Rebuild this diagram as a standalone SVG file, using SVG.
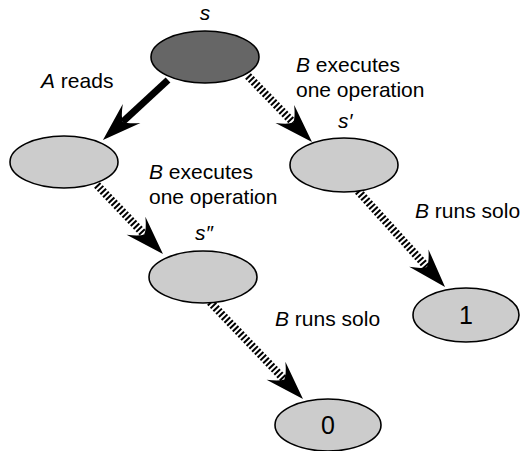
<svg xmlns="http://www.w3.org/2000/svg" width="523" height="451" viewBox="0 0 523 451">
<style>
text{font-family:"Liberation Sans",Arial,sans-serif;font-size:21px;fill:#000}
.i{font-style:italic}
.node{fill:#cccccc;stroke:#000;stroke-width:1.6}
.dark{fill:#666666}
.hatch{stroke:#000;stroke-width:8;stroke-dasharray:2 2;fill:none}
.solid{stroke:#000;stroke-width:7;fill:none}
.num{font-size:25px;text-anchor:middle}
</style>
<defs>
<marker id="ah" markerUnits="userSpaceOnUse" orient="auto" markerWidth="44" markerHeight="34" refX="0" refY="0" viewBox="-14 -17 44 34" overflow="visible">
<path d="M27,0 L-12,-13 Q-2,-5 0,0 Q-2,5 -12,13 Z" fill="#000"/>
</marker>
</defs>
<g id="connectors">
<line class="solid" x1="168" y1="80" x2="122.8" y2="121.7" marker-end="url(#ah)"/>
<line class="hatch" x1="248" y1="76" x2="293.2" y2="122.6" marker-end="url(#ah)"/>
<line class="hatch" x1="97" y1="185" x2="144.3" y2="234.5" marker-end="url(#ah)"/>
<line class="hatch" x1="358" y1="191" x2="426.9" y2="267" marker-end="url(#ah)"/>
<line class="hatch" x1="210" y1="302" x2="284.3" y2="379.5" marker-end="url(#ah)"/>
</g>
<g id="node-s">
<ellipse class="node dark" cx="205" cy="57" rx="54" ry="26"/>
<text class="i" x="205" y="20" text-anchor="middle">s</text>
</g>
<g id="node-a">
<ellipse class="node" cx="64" cy="162" rx="54" ry="26"/>
</g>
<g id="node-s1">
<ellipse class="node" cx="344" cy="165" rx="54" ry="27"/>
<text class="i" x="338" y="128">s′</text>
</g>
<g id="node-s2">
<ellipse class="node" cx="203" cy="277" rx="54" ry="26"/>
<text class="i" x="195" y="240">s″</text>
</g>
<g id="node-1">
<ellipse class="node" cx="466" cy="315" rx="53" ry="27"/>
<text class="num" x="466" y="324">1</text>
</g>
<g id="node-0">
<ellipse class="node" cx="328" cy="425" rx="53" ry="26"/>
<text class="num" x="328" y="434">0</text>
</g>
<g id="labels">
<text x="41" y="88"><tspan class="i">A</tspan> reads</text>
<text x="296" y="72"><tspan class="i">B</tspan> executes</text>
<text x="296" y="97">one operation</text>
<text x="149" y="179"><tspan class="i">B</tspan> executes</text>
<text x="149" y="204">one operation</text>
<text x="415" y="218"><tspan class="i">B</tspan> runs solo</text>
<text x="275" y="326"><tspan class="i">B</tspan> runs solo</text>
</g>
</svg>
